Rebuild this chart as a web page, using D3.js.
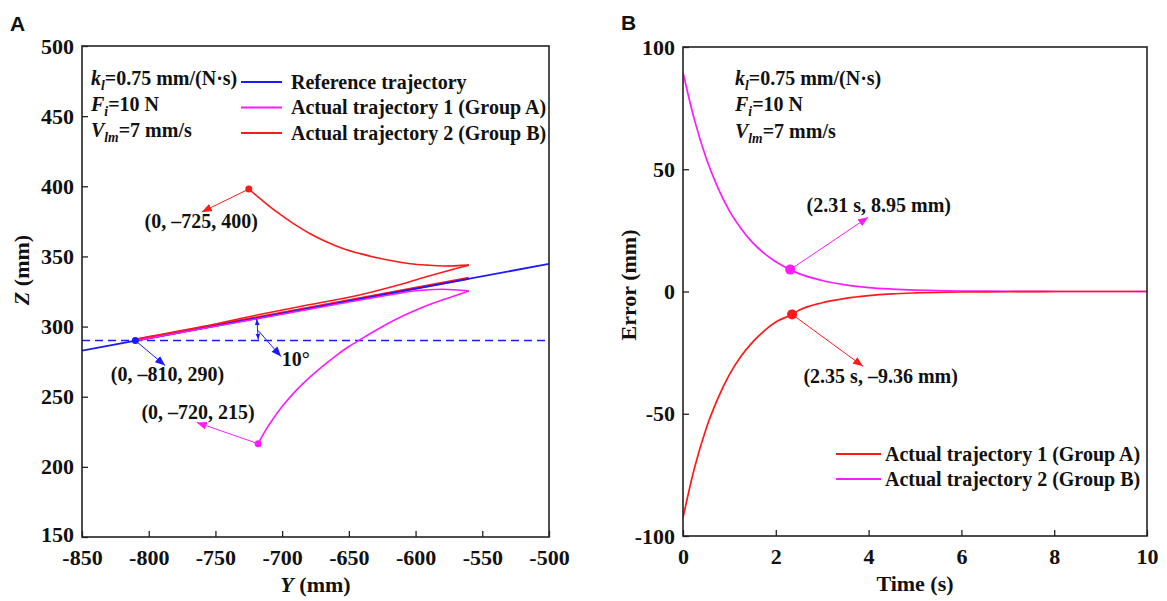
<!DOCTYPE html>
<html>
<head>
<meta charset="utf-8">
<script src="https://cdn.jsdelivr.net/npm/d3@7"></script>
<style>
  body { margin: 0; background: #fff; }
  svg { display: block; }
  text { font-family: "Liberation Serif", "Times New Roman", serif; font-weight: bold; fill: #111; }
</style>
</head>
<body>
<div id="chart"></div>
<script>
// ======= panel A data: Y (mm) vs Z (mm)
var axisAxTicks = [-850, -800, -750, -700, -650, -600, -550, -500];
var axisAyTicks = [150, 200, 250, 300, 350, 400, 450, 500];

var refY = [-850, -500];
var refZ = [282.9, 344.7];
var startLineZ = 290;

var groupAApproachY = [-718, -714, -708, -700, -690, -680, -670, -660, -650, -640, -630, -620, -610, -600, -590, -580, -570, -560];
var groupAApproachZ = [216.5, 223.5, 232.5, 243, 254, 263.3, 271.5, 279, 285.8, 291.6, 297.2, 302.5, 307.3, 311.6, 315.5, 319, 322.2, 325.3];
var groupAReturnY = [-560, -580, -600, -620, -650, -700, -750, -810];
var groupAReturnZ = [325.3, 326.6, 325.5, 322.5, 317.5, 308.8, 300.2, 290];

var groupBApproachY = [-725, -716.5, -704, -691.5, -679, -666.5, -654, -641.5, -629, -616.5, -604, -591.5, -579, -560];
var groupBApproachZ = [398, 391.2, 381.7, 373.4, 366.2, 360.3, 355.5, 352, 349.1, 346.7, 344.8, 343.8, 343.2, 343.8];
var groupBReturnY = [-560, -575, -592, -617, -642, -680, -717, -760, -810];
var groupBReturnZ = [343.8, 340, 335.5, 328.5, 322.5, 315.5, 308.6, 300, 291];
var groupBTrackY = [-810, -560];
var groupBTrackZ = [290.3, 334.4];

// ======= panel B data: error vs time
var axisBxTicks = [0, 2, 4, 6, 8, 10];
var axisByTicks = [-100, -50, 0, 50, 100];

var timeA = [0, 0.25, 0.5, 0.75, 1, 1.25, 1.5, 1.75, 2, 2.35, 2.5, 3, 3.5, 4, 4.5, 5, 6, 7, 8, 9, 10];
var errorA = [-92.5, -72, -56, -43.8, -34, -26.5, -20.7, -16.1, -12.5, -9.36, -7.7, -4.6, -2.8, -1.7, -1.0, -0.6, -0.2, -0.1, 0, 0, 0];
var timeB = [0, 0.25, 0.5, 0.75, 1, 1.25, 1.5, 1.75, 2, 2.31, 2.5, 3, 3.5, 4, 4.5, 5, 6, 7, 8, 9, 10];
var errorB = [89.5, 70, 54.5, 42.5, 33, 25.8, 20, 15.6, 12.2, 8.95, 7.3, 4.5, 2.7, 1.6, 1.0, 0.6, 0.2, 0.1, 0, 0, 0];

var RED = "#ff1a1a", MAG = "#ff1aff", BLUE = "#1a1aff";

var svg = d3.select("#chart").append("svg")
  .attr("width", 1167)
  .attr("height", 601);

// ======= arrowheads
var defs = svg.append("defs");
[["red", RED], ["mag", MAG], ["blue", BLUE]].forEach(function(c) {
  defs.append("marker")
    .attr("id", "arr-" + c[0])
    .attr("markerUnits", "userSpaceOnUse")
    .attr("viewBox", "0 0 10 8")
    .attr("refX", 10).attr("refY", 4)
    .attr("markerWidth", 10).attr("markerHeight", 8)
    .attr("orient", "auto-start-reverse")
    .append("path").attr("d", "M0,0L10,4L0,8Z").attr("fill", c[1]);
  defs.append("marker")
    .attr("id", "arrs-" + c[0])
    .attr("markerUnits", "userSpaceOnUse")
    .attr("viewBox", "0 0 10 8")
    .attr("refX", 10).attr("refY", 4)
    .attr("markerWidth", 6).attr("markerHeight", 5)
    .attr("orient", "auto-start-reverse")
    .append("path").attr("d", "M0,0L10,4L0,8Z").attr("fill", c[1]);
});

function zip(a, b) { return a.map(function(v, i) { return [v, b[i]]; }); }

// text with italic letters and subscripts
function richText(g, x, y, parts, size, color) {
  var t = g.append("text").attr("x", x).attr("y", y)
    .attr("font-size", size).attr("fill", color || "#111");
  var shift = 0;
  parts.forEach(function(p) {
    var s = t.append("tspan").text(p.t);
    if (p.i) s.attr("font-style", "italic");
    var want = p.sub ? 5 : 0;
    if (want !== shift) { s.attr("dy", want - shift); shift = want; }
    if (p.sub) s.attr("font-size", size * 0.68);
  });
  return t;
}

function styleAxis(g) {
  g.attr("font-family", null).attr("font-size", null);
  g.selectAll(".domain").remove();
  g.selectAll(".tick line").attr("stroke", "#222").attr("stroke-width", 1.3);
  g.selectAll(".tick text").attr("font-size", 22).attr("fill", "#111");
}

// plain hyphen minus, as in the figure
function plainTick(d) { return String(d); }

function frame(g, x0, x1, y0, y1) {
  g.append("rect").attr("x", x0).attr("y", y0)
    .attr("width", x1 - x0).attr("height", y1 - y0)
    .attr("fill", "none").attr("stroke", "#222").attr("stroke-width", 1.6);
}

// ================= Panel A
var xA = d3.scaleLinear().domain([-850, -500]).range([82, 549]);
var yA = d3.scaleLinear().domain([150, 500]).range([537, 46]);
var gA = svg.append("g");

defs.append("clipPath").attr("id", "clipA").append("rect")
  .attr("x", 82).attr("y", 46).attr("width", 467).attr("height", 491);

gA.append("g").attr("transform", "translate(0,537)")
  .call(d3.axisBottom(xA).tickValues(axisAxTicks).tickFormat(plainTick).tickSize(-6).tickPadding(12))
  .call(styleAxis);
gA.append("g").attr("transform", "translate(82,0)")
  .call(d3.axisLeft(yA).tickValues(axisAyTicks).tickFormat(plainTick).tickSize(-6).tickPadding(8))
  .call(styleAxis)
  .selectAll(".tick text").filter(function(d) { return d === 150; }).attr("dy", "0.2em");

var plotA = gA.append("g").attr("clip-path", "url(#clipA)");
var lineA = d3.line().x(function(d) { return xA(d[0]); }).y(function(d) { return yA(d[1]); });
var curveA = d3.line().x(function(d) { return xA(d[0]); }).y(function(d) { return yA(d[1]); })
  .curve(d3.curveCatmullRom);

plotA.append("line")
  .attr("x1", xA(-850)).attr("x2", xA(-500))
  .attr("y1", yA(startLineZ)).attr("y2", yA(startLineZ))
  .attr("stroke", BLUE).attr("stroke-width", 1.5).attr("stroke-dasharray", "8,5");

plotA.append("path").attr("d", lineA(zip(groupBTrackY, groupBTrackZ)))
  .attr("fill", "none").attr("stroke", RED).attr("stroke-width", 3);
plotA.append("path").attr("d", lineA(zip(refY, refZ)))
  .attr("fill", "none").attr("stroke", BLUE).attr("stroke-width", 1.8);
plotA.append("path").attr("d", curveA(zip(groupAApproachY, groupAApproachZ)))
  .attr("fill", "none").attr("stroke", MAG).attr("stroke-width", 1.6);
plotA.append("path").attr("d", curveA(zip(groupAReturnY, groupAReturnZ)))
  .attr("fill", "none").attr("stroke", MAG).attr("stroke-width", 1.6);
plotA.append("path").attr("d", curveA(zip(groupBApproachY, groupBApproachZ)))
  .attr("fill", "none").attr("stroke", RED).attr("stroke-width", 1.6);
plotA.append("path").attr("d", curveA(zip(groupBReturnY, groupBReturnZ)))
  .attr("fill", "none").attr("stroke", RED).attr("stroke-width", 1.6);

frame(gA, 82, 549, 46, 537);

// ======= panel A annotations (data coordinates)
var notesA = [
  { color: RED, id: "red", pt: [-725, 398], tip: [-760.2, 381.7], label: "(0, \u2013725, 400)", at: [-760.7, 370] },
  { color: BLUE, id: "blue", pt: [-810, 290], tip: [-787.7, 272.2], label: "(0, \u2013810, 290)", at: [-785.9, 261.4] },
  { color: MAG, id: "mag", pt: [-718, 216.5], tip: [-764, 231.7], label: "(0, \u2013720, 215)", at: [-763, 234] }
];
notesA.forEach(function(n) {
  gA.append("line")
    .attr("x1", xA(n.pt[0])).attr("y1", yA(n.pt[1]))
    .attr("x2", xA(n.tip[0])).attr("y2", yA(n.tip[1]))
    .attr("stroke", n.color).attr("stroke-width", 1)
    .attr("marker-end", "url(#arr-" + n.id + ")");
  gA.append("circle").attr("cx", xA(n.pt[0])).attr("cy", yA(n.pt[1]))
    .attr("r", 3.5).attr("fill", n.color);
  gA.append("text").attr("x", xA(n.at[0])).attr("y", yA(n.at[1]))
    .attr("text-anchor", "middle").attr("font-size", 20).attr("fill", n.color)
    .text(n.label);
});

// 10 degree angle mark
var angleY = -719;
gA.append("line")
  .attr("x1", xA(angleY)).attr("y1", yA(290 + (angleY + 810) * 0.1763) + 1)
  .attr("x2", xA(angleY) + 1.5).attr("y2", yA(startLineZ) - 1)
  .attr("stroke", BLUE).attr("stroke-width", 1)
  .attr("marker-start", "url(#arrs-blue)").attr("marker-end", "url(#arrs-blue)");
gA.append("line")
  .attr("x1", xA(-718)).attr("y1", yA(297.2))
  .attr("x2", xA(-700.8)).attr("y2", yA(278.6))
  .attr("stroke", BLUE).attr("stroke-width", 1)
  .attr("marker-end", "url(#arr-blue)");
gA.append("text").attr("x", xA(-700.3)).attr("y", yA(272.2))
  .attr("font-size", 20).attr("fill", BLUE).text("10\u00b0");

// parameters text
richText(gA, 91, 85, [{ t: "k", i: true }, { t: "l", i: true, sub: true }, { t: "=0.75 mm/(N\u00b7s)" }], 20);
richText(gA, 91, 111, [{ t: "F", i: true }, { t: "i", i: true, sub: true }, { t: "=10 N" }], 20);
richText(gA, 91, 137, [{ t: "V", i: true }, { t: "lm", i: true, sub: true }, { t: "=7 mm/s" }], 20);

// legend A
var legendA = [
  { name: "Reference trajectory", color: BLUE },
  { name: "Actual trajectory 1 (Group A)", color: MAG },
  { name: "Actual trajectory 2 (Group B)", color: RED }
];
legendA.forEach(function(d, j) {
  var yy = 82 + j * 25.5;
  gA.append("line").attr("x1", 241).attr("x2", 282).attr("y1", yy).attr("y2", yy)
    .attr("stroke", d.color).attr("stroke-width", 1.8);
  gA.append("text").attr("x", 291).attr("y", yy + 6.5).attr("font-size", 20).text(d.name);
});

// axis titles A
richText(gA, 0, 0, [{ t: "Y", i: true }, { t: " (mm)" }], 22)
  .attr("x", 315.5).attr("y", 592).attr("text-anchor", "middle");
richText(gA, 0, 0, [{ t: "Z", i: true }, { t: " (mm)" }], 22)
  .attr("text-anchor", "middle").attr("transform", "translate(29,270) rotate(-90)");

gA.append("text").attr("x", 10).attr("y", 31)
  .style("font-family", "'Liberation Sans', Arial, sans-serif").attr("font-size", 21).text("A");

// ================= Panel B
var xB = d3.scaleLinear().domain([0, 10]).range([683, 1147]);
var yB = d3.scaleLinear().domain([-100, 100]).range([536, 47]);
var gB = svg.append("g");

defs.append("clipPath").attr("id", "clipB").append("rect")
  .attr("x", 683).attr("y", 47).attr("width", 464).attr("height", 489);

gB.append("g").attr("transform", "translate(0,536)")
  .call(d3.axisBottom(xB).tickValues(axisBxTicks).tickFormat(plainTick).tickSize(-6).tickPadding(12))
  .call(styleAxis);
gB.append("g").attr("transform", "translate(683,0)")
  .call(d3.axisLeft(yB).tickValues(axisByTicks).tickFormat(plainTick).tickSize(-6).tickPadding(8))
  .call(styleAxis);

var plotB = gB.append("g").attr("clip-path", "url(#clipB)");
var curveB = d3.line().x(function(d) { return xB(d[0]); }).y(function(d) { return yB(d[1]); })
  .curve(d3.curveMonotoneX);

plotB.append("path").attr("d", curveB(zip(timeB, errorB)))
  .attr("fill", "none").attr("stroke", MAG).attr("stroke-width", 1.7);
plotB.append("path").attr("d", curveB(zip(timeA, errorA)))
  .attr("fill", "none").attr("stroke", RED).attr("stroke-width", 1.7);

frame(gB, 683, 1147, 47, 536);

var notesB = [
  { color: MAG, id: "mag", pt: [2.31, 8.95], tip: [3.99, 30.4], label: "(2.31 s, 8.95 mm)", at: [4.22, 32.6] },
  { color: RED, id: "red", pt: [2.35, -9.36], tip: [3.88, -30.6], label: "(2.35 s, \u20139.36 mm)", at: [4.26, -37.5] }
];
notesB.forEach(function(n) {
  gB.append("line")
    .attr("x1", xB(n.pt[0])).attr("y1", yB(n.pt[1]))
    .attr("x2", xB(n.tip[0])).attr("y2", yB(n.tip[1]))
    .attr("stroke", n.color).attr("stroke-width", 1)
    .attr("marker-end", "url(#arr-" + n.id + ")");
  gB.append("circle").attr("cx", xB(n.pt[0])).attr("cy", yB(n.pt[1]))
    .attr("r", 5).attr("fill", n.color);
  gB.append("text").attr("x", xB(n.at[0])).attr("y", yB(n.at[1]))
    .attr("text-anchor", "middle").attr("font-size", 20).attr("fill", n.color)
    .text(n.label);
});

richText(gB, 735, 85, [{ t: "k", i: true }, { t: "l", i: true, sub: true }, { t: "=0.75 mm/(N\u00b7s)" }], 20);
richText(gB, 735, 111, [{ t: "F", i: true }, { t: "i", i: true, sub: true }, { t: "=10 N" }], 20);
richText(gB, 735, 138, [{ t: "V", i: true }, { t: "lm", i: true, sub: true }, { t: "=7 mm/s" }], 20);

var legendB = [
  { name: "Actual trajectory 1 (Group A)", color: RED },
  { name: "Actual trajectory 2 (Group B)", color: MAG }
];
legendB.forEach(function(d, j) {
  var yy = 454 + j * 25;
  gB.append("line").attr("x1", 836).attr("x2", 881).attr("y1", yy).attr("y2", yy)
    .attr("stroke", d.color).attr("stroke-width", 1.8);
  gB.append("text").attr("x", 885).attr("y", yy + 6.5).attr("font-size", 20).text(d.name);
});

gB.append("text").attr("x", 915).attr("y", 591)
  .attr("text-anchor", "middle").attr("font-size", 22).text("Time (s)");
gB.append("text").attr("text-anchor", "middle").attr("font-size", 22)
  .attr("transform", "translate(636,285) rotate(-90)").text("Error (mm)");

gB.append("text").attr("x", 621).attr("y", 30)
  .style("font-family", "'Liberation Sans', Arial, sans-serif").attr("font-size", 21).text("B");
</script>
</body>
</html>
